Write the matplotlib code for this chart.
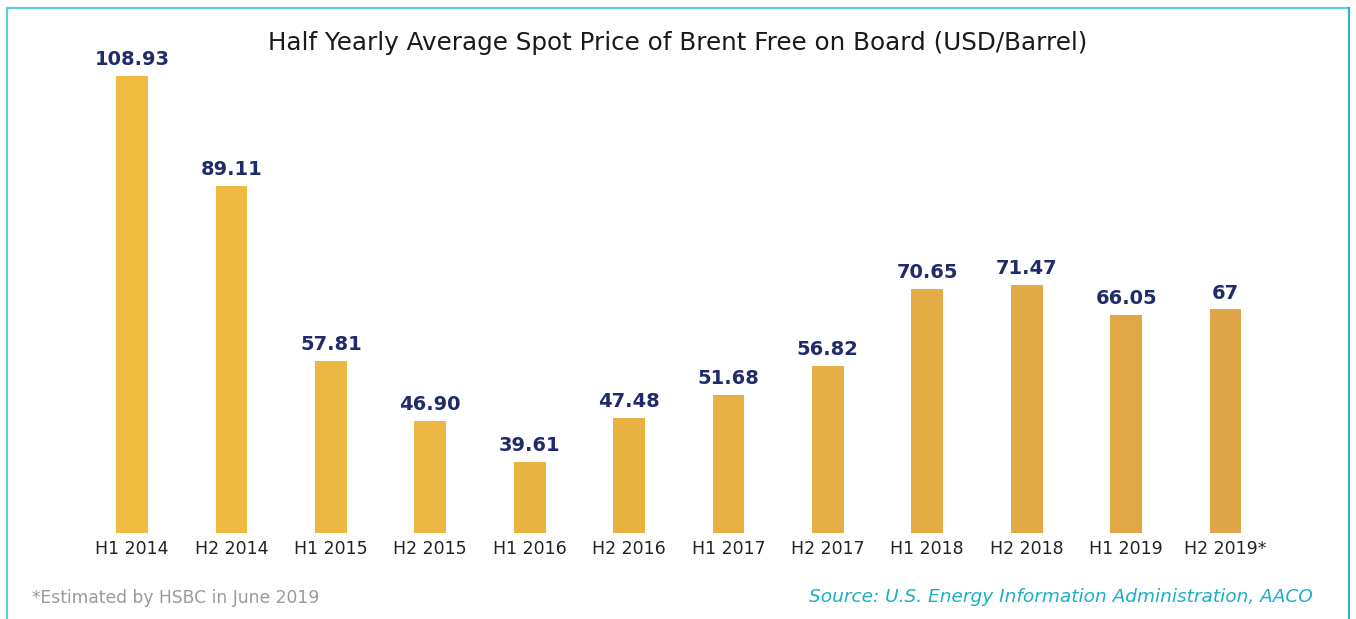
import numpy as np
import matplotlib
matplotlib.use("Agg")
import matplotlib.pyplot as plt
from matplotlib.colors import to_rgb
from matplotlib.lines import Line2D

# half yearly brent prices
periods = ["H1 2014", "H2 2014", "H1 2015", "H2 2015", "H1 2016", "H2 2016",
           "H1 2017", "H2 2017", "H1 2018", "H2 2018", "H1 2019", "H2 2019*"]
prices = [108.93, 89.11, 57.81, 46.90, 39.61, 47.48,
          51.68, 56.82, 70.65, 71.47, 66.05, 67]
price_labels = ["108.93", "89.11", "57.81", "46.90", "39.61", "47.48",
                "51.68", "56.82", "70.65", "71.47", "66.05", "67"]

W, H = 1356, 619
fig = plt.figure(figsize=(W / 100, H / 100), dpi=100)

# bar colours fade from bright yellow to a deeper ochre
c0 = np.array(to_rgb("#F0BC40"))
c1 = np.array(to_rgb("#DEA646"))
colors = [tuple(c0 + (c1 - c0) * i / (len(prices) - 1)) for i in range(len(prices))]

left, right = 82.3, 1275.2
top, bottom = 60, 533
ax = fig.add_axes([left / W, 1 - bottom / H, (right - left) / W, (bottom - top) / H])
x = np.arange(len(prices))
bars = ax.bar(x, prices, width=0.32, color=colors, zorder=2)
ax.set_xlim(-0.5, len(prices) - 0.5)
ax.set_ylim(26.86, 111.8)

for xi, p, lab in zip(x, prices, price_labels):
    ax.annotate(lab, (xi, p), xytext=(0, 5), textcoords="offset points",
                ha="center", va="bottom", fontsize=14, fontweight="bold",
                color="#1F2B6A")

ax.set_xticks(x)
ax.set_xticklabels(periods, fontsize=12.5, color="#222222")
ax.tick_params(axis="x", length=0, pad=5)
ax.set_yticks([])
for s in ax.spines.values():
    s.set_visible(False)

fig.text(678 / W, 1 - 43 / H, "Half Yearly Average Spot Price of Brent Free on Board (USD/Barrel)",
         ha="center", va="center", fontsize=17.7, color="#1a1a1a")
fig.text(32 / W, 1 - 598 / H, "*Estimated by HSBC in June 2019",
         ha="left", va="center", fontsize=12.3, color="#9a9a9a")
fig.text(1313 / W, 1 - 597 / H, "Source: U.S. Energy Information Administration, AACO",
         ha="right", va="center", fontsize=13.3, color="#1AAFC8", style="italic")

# frame around the chart
fig.add_artist(Line2D([7 / W, 7 / W], [0, 1 - 8 / H], color="#5CCDE0", lw=1.6))
fig.add_artist(Line2D([7 / W, 1349 / W], [1 - 8 / H, 1 - 8 / H], color="#5CCDE0", lw=1.6))
fig.add_artist(Line2D([1349 / W, 1349 / W], [0, 1 - 8 / H], color="#22AEC6", lw=1.4))

fig.savefig("out.png", dpi=100, facecolor="white")
